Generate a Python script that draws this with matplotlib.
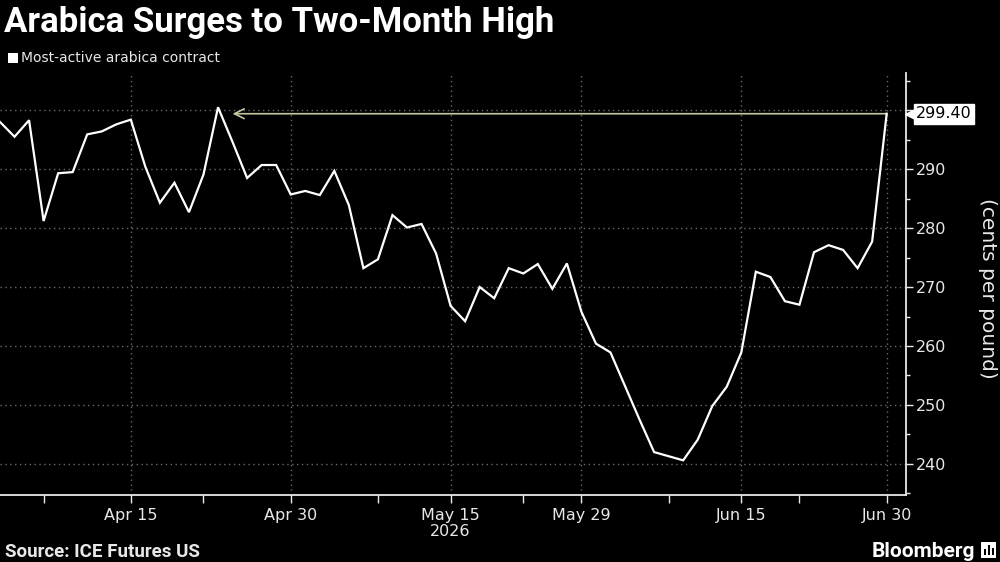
import matplotlib
matplotlib.use("Agg")
import matplotlib.pyplot as plt
import matplotlib.transforms as mtransforms
from matplotlib.patches import Rectangle
import pandas as pd
import numpy as np

# ---------------- data ----------------
start_date = "2026-04-01"
end_date = "2026-06-30"
exchange_holidays = ["2026-04-03", "2026-05-25", "2026-06-19"]
prices = [298.0, 295.5, 298.3, 281.2, 289.3, 289.5, 295.9, 296.4, 297.6, 298.4,
          290.4, 284.3, 287.7, 282.7, 289.1, 300.5, 294.6, 288.5, 290.7, 290.7,
          285.7, 286.3, 285.6, 289.7, 283.9, 273.2, 274.7, 282.2, 280.1, 280.7,
          275.7, 266.8, 264.2, 270.0, 268.1, 273.2, 272.3, 273.9, 269.7, 274.0,
          265.8, 260.4, 258.9, 253.2, 247.5, 242.0, 241.3, 240.6, 244.1, 249.8,
          253.1, 258.9, 272.6, 271.7, 267.6, 267.0, 275.9, 277.1, 276.3, 273.2,
          277.7, 299.4]
major_tick_dates = ["2026-04-15", "2026-04-30", "2026-05-15", "2026-05-29", "2026-06-15", "2026-06-30"]
major_tick_labels = ["Apr 15", "Apr 30", "May 15\n2026", "May 29", "Jun 15", "Jun 30"]
minor_tick_dates = ["2026-04-07", "2026-04-22", "2026-05-08", "2026-05-22", "2026-06-08", "2026-06-22"]
y_major = [240, 250, 260, 270, 280, 290, 300]
y_labels = ["240", "250", "260", "270", "280", "290", ""]
y_minor = [235, 245, 255, 265, 275, 285, 295, 305]

title = "Arabica Surges to Two-Month High"
legend_label = "Most-active arabica contract"
y_title = "(cents per pound)"
source = "Source: ICE Futures US"

# ---------------- setup ----------------
dates = pd.bdate_range(start_date, end_date, freq="C", holidays=exchange_holidays)
x = np.arange(len(dates))
pos = {d.strftime("%Y-%m-%d"): i for i, d in enumerate(dates)}

BG = "black"
FG = "#e8e8e8"
GRID = "#6a6a6a"
SANS = ["DejaVu Sans"]

fig = plt.figure(figsize=(10, 5.62), dpi=100, facecolor=BG)
ax = fig.add_axes([0.0, 0.119, 0.906, 0.751], facecolor=BG)

ax.plot(x, prices, color="white", lw=1.6, solid_joinstyle="miter", zorder=3)

ax.set_xlim(0, len(x) - 1 + 1.33)
ax.set_ylim(234.7, 306.3)

ax.set_xticks([pos[d] for d in major_tick_dates])
ax.set_xticklabels(major_tick_labels)
ax.set_xticks([pos[d] for d in minor_tick_dates], minor=True)

ax.yaxis.tick_right()
ax.set_yticks(y_major)
ax.set_yticklabels(y_labels)
ax.set_yticks(y_minor, minor=True)

for lab in ax.get_xticklabels() + ax.get_yticklabels():
    lab.set_family(SANS)
    lab.set_fontsize(11.5)
    lab.set_color(FG)
for lab in ax.get_xticklabels():
    lab.set_linespacing(1.15)

ax.tick_params(axis="x", which="both", direction="out", length=6, width=1, color=FG, pad=3)
ax.tick_params(axis="y", which="major", direction="out", length=5, width=1, color=FG, pad=2)
ax.tick_params(axis="y", which="minor", direction="out", length=3, width=1, color=FG)

for s in ["left", "top"]:
    ax.spines[s].set_visible(False)
for s in ["right", "bottom"]:
    ax.spines[s].set_color(FG)
    ax.spines[s].set_linewidth(1.3)

ax.grid(True, which="major", color=GRID, linestyle=(0, (1, 2.5)), linewidth=1)

# arrow from last value back to the earlier peak
peak_idx = int(np.argmax(prices))
ax.annotate("", xy=(peak_idx + 1.0, prices[-1]), xytext=(x[-1], prices[-1]),
            arrowprops=dict(arrowstyle="->,head_length=0.7,head_width=0.35",
                            color="#c8c8a0", lw=1.2, shrinkA=0, shrinkB=0),
            zorder=2)

# last value label
trans = mtransforms.blended_transform_factory(ax.transAxes, ax.transData)
ax.plot([1.0], [prices[-1]], marker="<", color="white", markersize=9,
        transform=trans + mtransforms.ScaledTranslation(5 / 100, 0, fig.dpi_scale_trans),
        clip_on=False, zorder=5)
ax.text(1.0, prices[-1], f"{prices[-1]:.2f}",
        transform=trans + mtransforms.ScaledTranslation(10 / 100, 0, fig.dpi_scale_trans),
        ha="left", va="center", color="black", fontsize=11.5, family=SANS,
        bbox=dict(boxstyle="square,pad=0.15", fc="white", ec="white"), zorder=6, clip_on=False)

# titles and texts
fig.text(0.004, 1 - 32 / 562, title, color="white", fontsize=25, fontweight="bold",
         family=["Roboto", "DejaVu Sans"], ha="left", va="baseline")
fig.patches.append(Rectangle((8 / 1000, 1 - 63 / 562), 10 / 1000, 10 / 562,
                             transform=fig.transFigure, fc="white", ec="none"))
fig.text(21 / 1000, 1 - 58 / 562, legend_label, color=FG, fontsize=10,
         family=SANS, ha="left", va="center")
fig.text(987 / 1000, 1 - 288 / 562, y_title, color=FG, fontsize=14.5, family=SANS,
         rotation=270, ha="center", va="center")
fig.text(0.005, 1 - 557 / 562, source, color=FG, fontsize=13.5, fontweight="bold",
         family=["Roboto", "DejaVu Sans"], ha="left", va="baseline")
fig.text(975 / 1000, 1 - 557 / 562, "Bloomberg", color="white", fontsize=15, fontweight="bold",
         family=["Roboto", "DejaVu Sans"], ha="right", va="baseline")
# small logo mark
fig.patches.append(Rectangle((981 / 1000, 1 - 558 / 562), 15 / 1000, 16 / 562,
                             transform=fig.transFigure, fc="white", ec="none"))
for bx, bh in [(984, 6), (988, 10), (992, 7)]:
    fig.patches.append(Rectangle((bx / 1000, 1 - 555 / 562), 2 / 1000, bh / 562,
                                 transform=fig.transFigure, fc="black", ec="none"))

fig.savefig("out.png", dpi=100, facecolor=BG)
